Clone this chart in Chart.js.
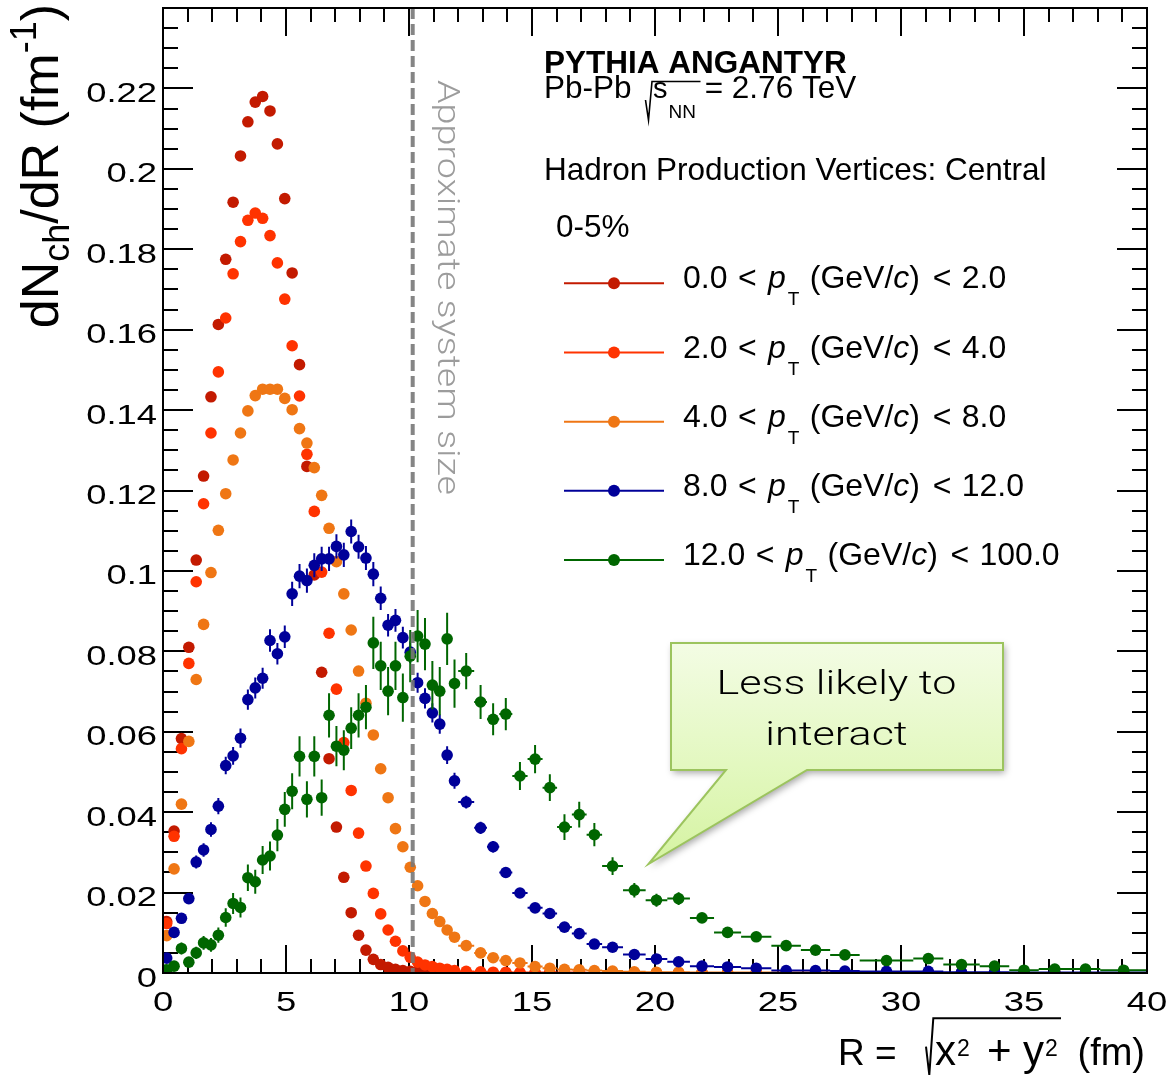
<!DOCTYPE html>
<html>
<head>
<meta charset="utf-8">
<script src="https://cdn.jsdelivr.net/npm/chart.js@4.4.1/dist/chart.umd.min.js"></script>
<style>
html,body{margin:0;padding:0;background:#ffffff;overflow:hidden;}
canvas{display:block;}
</style>
</head>
<body>
<canvas id="chart" width="1171" height="1078" style="width:1171px;height:1078px"></canvas>
<script>
// ================= DATA =================
// Bin edges in R (fm)
const binEdges = [0,0.3,0.6,0.9,1.2,1.5,1.8,2.1,2.4,2.7,3.0,3.3,3.6,3.9,4.2,4.5,4.8,5.1,5.4,5.7,
  6.0,6.3,6.6,6.9,7.2,7.5,7.8,8.1,8.4,8.7,9.0,9.3,9.6,9.9,10.2,10.5,10.8,11.1,11.4,11.7,12.0,
  12.65,13.17,13.67,14.2,14.82,15.43,16.02,16.62,17.22,17.85,18.7,19.62,20.5,21.42,22.4,23.5,
  24.73,25.93,27.12,28.32,30.5,31.72,33.2,34.4,35.6,36.9,38.1,40];

const ptLow  = ['0.0','2.0','4.0','8.0','12.0'];
const ptHigh = ['2.0','4.0','8.0','12.0','100.0'];
const seriesColors = ['#c31a00','#ff3300','#ef7614','#000099','#006600'];

// dNch/dR per bin
const yieldPt0_2 = [0.0128,0.0353,0.0583,0.0810,0.1027,0.1236,0.1433,0.1613,0.1775,0.1917,
  0.2032,0.2117,0.2166,0.2180,0.2144,0.2062,0.1926,0.1741,0.1513,0.1260,
  0.0990,0.0748,0.0533,0.0363,0.0238,0.0150,0.0094,0.0057,0.0034,0.0021,
  0.0014,0.0009,0.0006,0.0004,0.0003,0.0002,0.0002,0.0001,0.0001,0.0001,
  0.0001,0,0,0,0,0,0,0,0,0,0,0,0,0,0,0,0,0,0,0,0,0,0,0,0,0,0,0];
const yieldPt2_4 = [0.0123,0.0340,0.0558,0.0770,0.0973,0.1167,0.1343,0.1495,0.1629,0.1739,
  0.1819,0.1872,0.1890,0.1877,0.1834,0.1766,0.1676,0.1560,0.1435,0.1290,
  0.1148,0.0997,0.0845,0.0706,0.0573,0.0454,0.0348,0.0266,0.0198,0.0147,
  0.0107,0.0079,0.0055,0.0039,0.0027,0.0020,0.0016,0.0012,0.0009,0.0006,
  0.0004,0.0003,0.0002,0.0002,0.0001,0.0001,0.0001,0.0001,0.0001,0,
  0,0,0,0,0,0,0,0,0,0,0,0,0,0,0,0,0,0];
const yieldPt4_8 = [0.0093,0.0259,0.0420,0.0576,0.0730,0.0867,0.0996,0.1101,0.1192,0.1276,
  0.1343,0.1398,0.1436,0.1452,0.1452,0.1452,0.1429,0.1401,0.1354,0.1318,
  0.1257,0.1188,0.1106,0.1023,0.0943,0.0853,0.0751,0.0671,0.0592,0.0508,
  0.0436,0.0359,0.0314,0.0263,0.0217,0.0178,0.0148,0.0128,0.0107,0.0089,
  0.0068,0.0050,0.0038,0.0031,0.0025,0.0016,0.0012,0.0009,0.0008,0.0006,
  0.0005,0.0003,0.0002,0.0002,0.0001,0.0001,0.0001,0.0001,0.0001,0.0001,
  0,0,0,0,0,0,0,0];
const yieldPt8_12 = [0.0037,0.0101,0.0136,0.0185,0.0276,0.0306,0.0357,0.0415,0.0516,0.0540,
  0.0584,0.0680,0.0709,0.0733,0.0827,0.0794,0.0836,0.0943,0.0987,0.0976,
  0.1014,0.1030,0.1030,0.1061,0.1040,0.1098,0.1060,0.1032,0.0992,0.0932,
  0.0865,0.0877,0.0834,0.0798,0.0722,0.0683,0.0647,0.0619,0.0542,0.0478,
  0.0425,0.0361,0.0314,0.0250,0.0199,0.0162,0.0148,0.0114,0.0098,0.0072,
  0.0064,0.0046,0.0035,0.0028,0.0017,0.0015,0.0012,0.0006,0.0006,0.0005,
  0.0004,0.0004,0.0002,0.0002,0.0001,0.0001,0.0001,0.0001];
const yieldPt12_100 = [0.0008,0.0017,0.0061,0.0027,0.0050,0.0075,0.0070,0.0094,0.0138,0.0173,
  0.0163,0.0237,0.0227,0.0281,0.0291,0.0343,0.0407,0.0452,0.0539,0.0432,
  0.0539,0.0436,0.0641,0.0564,0.0554,0.0609,0.0641,0.0661,0.0821,0.0764,
  0.0701,0.0764,0.0685,0.0788,0.0838,0.0818,0.0716,0.0701,0.0831,0.0720,
  0.0751,0.0674,0.0631,0.0644,0.0490,0.0532,0.0461,0.0363,0.0394,0.0344,
  0.0266,0.0206,0.0181,0.0185,0.0137,0.0101,0.0090,0.0068,0.0057,0.0045,
  0.0031,0.0036,0.0021,0.0017,0.0007,0.0010,0.0010,0.0007];

// statistical errors (visible only for the two high-pT classes)
const errPt8_12 = [0.0007,0.0010,0.0012,0.0013,0.0016,0.0017,0.0018,0.0020,0.0022,0.0022,
  0.0024,0.0025,0.0026,0.0026,0.0028,0.0027,0.0028,0.0030,0.0030,0.0030,
  0.0030,0.0030,0.0030,0.0030,0.0030,0.0030,0.0030,0.0030,0.0030,0.0029,
  0.0028,0.0028,0.0027,0.0027,0.0025,0.0025,0.0024,0.0024,0.0022,0.0020,
  0.0016,0.0015,0.0014,0.0012,0.0011,0.0010,0.0009,0.0008,0.0007,0.0006,
  0.0005,0.0004,0.0004,0.0003,0.0003,0.0003,0.0002,0.0002,0.0002,0.0001,
  0.0001,0.0001,0.0001,0.0001,0.0001,0.0001,0.0001,0.0001];
const errPt12_100 = [0.0008,0.0009,0.0015,0.0012,0.0015,0.0017,0.0017,0.0019,0.0023,0.0026,
  0.0025,0.0033,0.0030,0.0035,0.0036,0.0040,0.0043,0.0045,0.0050,0.0045,
  0.0050,0.0045,0.0055,0.0050,0.0050,0.0052,0.0055,0.0055,0.0065,0.0060,
  0.0060,0.0060,0.0060,0.0065,0.0065,0.0065,0.0060,0.0060,0.0065,0.0060,
  0.0045,0.0042,0.0040,0.0040,0.0035,0.0035,0.0033,0.0032,0.0032,0.0029,
  0.0022,0.0018,0.0016,0.0016,0.0012,0.0010,0.0009,0.0008,0.0007,0.0006,
  0.0004,0.0005,0.0004,0.0003,0.0002,0.0003,0.0003,0.0002];

const xTickLabels = ['0','5','10','15','20','25','30','35','40'];
const yTickLabels = ['0','0.02','0.04','0.06','0.08','0.1','0.12','0.14','0.16','0.18','0.2','0.22'];
const systemSizeR = 10.15;

// ================= BUILD =================
const SANS = '"Liberation Sans", Arial, Helvetica, sans-serif';
const LIGHT = 'Roboto, Lato, "Open Sans", sans-serif';
const seriesValues = [yieldPt0_2, yieldPt2_4, yieldPt4_8, yieldPt8_12, yieldPt12_100];
const seriesErrors = [null, null, null, errPt8_12, errPt12_100];
const centers = [], halfWidths = [];
for (let i = 0; i < binEdges.length - 1; i++) {
  centers.push((binEdges[i] + binEdges[i+1]) / 2);
  halfWidths.push((binEdges[i+1] - binEdges[i]) / 2);
}
const datasets = seriesValues.map((vals, s) => ({
  label: ptLow[s] + ' < pT < ' + ptHigh[s],
  data: vals.map((v, i) => ({x: centers[i], y: v})),
  xErr: halfWidths,
  yErr: seriesErrors[s],
  backgroundColor: seriesColors[s],
  borderColor: seriesColors[s],
  pointRadius: 5.8, pointHoverRadius: 5.8, pointBorderWidth: 0,
  showLine: false,
  order: 4 - s,
  clip: 0
}));

// error bars, drawn per dataset just before its markers
const errorBarPlugin = {
  id: 'errorBars',
  beforeDatasetDraw(chart, args) {
    const ds = chart.data.datasets[args.index];
    const xs = chart.scales.x, ys = chart.scales.y, ctx = chart.ctx, a = chart.chartArea;
    ctx.save();
    ctx.beginPath(); ctx.rect(a.left, a.top, a.right - a.left, a.bottom - a.top); ctx.clip();
    ctx.strokeStyle = ds.borderColor; ctx.lineWidth = 2;
    ctx.beginPath();
    ds.data.forEach((p, i) => {
      const py = ys.getPixelForValue(p.y);
      ctx.moveTo(xs.getPixelForValue(p.x - ds.xErr[i]), py);
      ctx.lineTo(xs.getPixelForValue(p.x + ds.xErr[i]), py);
      if (ds.yErr) {
        const px = xs.getPixelForValue(p.x);
        ctx.moveTo(px, ys.getPixelForValue(p.y - ds.yErr[i]));
        ctx.lineTo(px, ys.getPixelForValue(p.y + ds.yErr[i]));
      }
    });
    ctx.stroke();
    ctx.restore();
  }
};

// ROOT-like frame with inward ticks on all four sides, and tick labels from the scales
const framePlugin = {
  id: 'rootFrame',
  beforeDatasetsDraw(chart) {
    const {ctx, chartArea: a} = chart, xs = chart.scales.x, ys = chart.scales.y;
    ctx.save(); ctx.strokeStyle = '#000'; ctx.lineWidth = 2; ctx.beginPath();
    for (let k = 0; k <= 40; k++) {
      const px = Math.round(xs.getPixelForValue(k));
      const L = (k % 5 === 0) ? 28 : 14;
      ctx.moveTo(px, a.bottom); ctx.lineTo(px, a.bottom - L);
      ctx.moveTo(px, a.top); ctx.lineTo(px, a.top + L);
    }
    for (let k = 0; k <= 48; k++) {
      const py = Math.round(ys.getPixelForValue(k * 0.005));
      const L = (k % 4 === 0) ? 30 : 15;
      ctx.moveTo(a.left, py); ctx.lineTo(a.left + L, py);
      ctx.moveTo(a.right, py); ctx.lineTo(a.right - L, py);
    }
    ctx.stroke();
    // tick labels (ROOT's wide label font: horizontally stretched Helvetica)
    ctx.fillStyle = '#000'; ctx.font = `28px ${SANS}`; ctx.textBaseline = 'alphabetic';
    ys.ticks.forEach(t => {
      if (!t.label) return;
      const py = ys.getPixelForValue(t.value);
      ctx.save(); ctx.translate(157, py + 13.5); ctx.scale(1.3, 1);
      ctx.textAlign = 'right'; ctx.fillText(t.label, 0, 0); ctx.restore();
    });
    xs.ticks.forEach(t => {
      if (!t.label) return;
      const px = xs.getPixelForValue(t.value);
      ctx.save(); ctx.translate(px, 1011); ctx.scale(1.3, 1);
      ctx.textAlign = 'center'; ctx.fillText(t.label, 0, 0); ctx.restore();
    });
    ctx.restore();
  },
  afterDatasetsDraw(chart) {
    const {ctx, chartArea: a} = chart, xs = chart.scales.x;
    // dashed "approximate system size" line
    const px = xs.getPixelForValue(systemSizeR);
    ctx.save();
    ctx.strokeStyle = 'rgba(120,120,120,0.9)'; ctx.lineWidth = 4; ctx.setLineDash([11, 5]);
    ctx.beginPath(); ctx.moveTo(px, a.top); ctx.lineTo(px, a.bottom); ctx.stroke();
    ctx.setLineDash([]);
    ctx.strokeStyle = '#000'; ctx.lineWidth = 2;
    ctx.strokeRect(a.left, a.top, a.right - a.left, a.bottom - a.top);
    ctx.restore();
  }
};

function txt(ctx, s, x, y, font, color, align) {
  ctx.font = font; ctx.fillStyle = color || '#000'; ctx.textAlign = align || 'left';
  ctx.textBaseline = 'alphabetic'; ctx.fillText(s, x, y);
  return ctx.measureText(s).width;
}
function radical(ctx, pts, lw) {
  ctx.save(); ctx.strokeStyle = '#000'; ctx.lineWidth = lw; ctx.lineJoin = 'miter';
  ctx.beginPath(); ctx.moveTo(pts[0][0], pts[0][1]);
  for (let i = 1; i < pts.length; i++) ctx.lineTo(pts[i][0], pts[i][1]);
  ctx.stroke(); ctx.restore();
}

const annotationPlugin = {
  id: 'annotations',
  afterDraw(chart) {
    const ctx = chart.ctx;
    ctx.save();
    // ---- header ----
    const HF = `31.5px ${SANS}`;
    txt(ctx, 'PYTHIA ANGANTYR', 544, 73, `bold 31.5px ${SANS}`);
    txt(ctx, 'Pb-Pb', 544, 98, HF);
    radical(ctx, [[645.5, 100], [648.5, 120], [652, 81.5], [700.5, 81.5]], 1.6);
    let x = 653 + txt(ctx, 's', 653, 98, `29px ${SANS}`);
    x += txt(ctx, 'NN', x + 1, 118, `19px ${SANS}`) + 1;
    txt(ctx, ' = 2.76 TeV', x, 98, HF);
    txt(ctx, 'Hadron Production Vertices: Central', 544, 180, HF);
    txt(ctx, '0-5%', 556, 237, HF);

    // ---- legend ----
    const rowY = [283.3, 352.5, 421.7, 490.8, 560];
    const LF = `32px ${SANS}`, LI = `italic 32px ${SANS}`;
    for (let s = 0; s < 5; s++) {
      const y = rowY[s], col = seriesColors[s];
      ctx.strokeStyle = col; ctx.lineWidth = 2;
      ctx.beginPath(); ctx.moveTo(564, y); ctx.lineTo(664, y); ctx.stroke();
      ctx.fillStyle = col; ctx.beginPath(); ctx.arc(614, y, 6, 0, Math.PI * 2); ctx.fill();
      const b = y + 5;
      let lx = 683;
      lx += txt(ctx, ptLow[s], lx, b, LF) + 10.5;
      lx += txt(ctx, '<', lx, b, LF) + 11.3;
      lx += txt(ctx, 'p', lx, b, LI) + 2;
      lx += txt(ctx, 'T', lx, b + 17, `19px ${SANS}`) + 10.4;
      lx += txt(ctx, '(GeV/', lx, b, LF);
      lx += txt(ctx, 'c', lx, b, LI);
      lx += txt(ctx, ')', lx, b, LF) + 12.7;
      lx += txt(ctx, '<', lx, b, LF) + 10.3;
      txt(ctx, ptHigh[s], lx, b, LF);
    }

    // ---- y-axis title (rotated) ----
    {
      const F = 52, FS = 36;
      const parts = [
        {t: 'dN', f: `${F}px ${SANS}`, dy: 0},
        {t: 'ch', f: `${FS}px ${SANS}`, dy: 11},
        {t: '/dR (fm', f: `${F}px ${SANS}`, dy: 0},
        {t: '-1', f: `${FS}px ${SANS}`, dy: -22},
        {t: ')', f: `${F}px ${SANS}`, dy: 0}
      ];
      ctx.save(); ctx.translate(58, 4); ctx.rotate(-Math.PI / 2);
      ctx.fillStyle = '#000'; ctx.textBaseline = 'alphabetic'; ctx.textAlign = 'left';
      let total = 0; parts.forEach(p => { ctx.font = p.f; total += ctx.measureText(p.t).width; });
      let px = -total;
      parts.forEach(p => { ctx.font = p.f; ctx.fillText(p.t, px, p.dy); px += ctx.measureText(p.t).width; });
      ctx.restore();
    }

    // ---- x-axis title ----
    txt(ctx, 'R =', 838, 1065, `37px ${SANS}`);
    radical(ctx, [[926, 1046.7], [929.3, 1075], [933.3, 1018.3], [1061, 1018.3]], 2);
    let tx = 935 + txt(ctx, 'x', 935, 1065, `42px ${SANS}`);
    txt(ctx, '2', tx + 1, 1056, `23px ${SANS}`);
    txt(ctx, '+', 987, 1065, `42px ${SANS}`);
    tx = 1023 + txt(ctx, 'y', 1023, 1065, `42px ${SANS}`);
    txt(ctx, '2', tx + 1, 1056, `23px ${SANS}`);
    txt(ctx, '(fm)', 1145, 1065, `38px ${SANS}`, '#000', 'right');

    // ---- rotated "Approximate system size" ----
    {
      ctx.save(); ctx.translate(438, 80); ctx.rotate(Math.PI / 2);
      ctx.font = `300 31px ${LIGHT}`;
      const w = ctx.measureText('Approximate system size').width;
      ctx.scale(415 / w, 1);
      ctx.fillStyle = '#9c9c9c'; ctx.textBaseline = 'alphabetic'; ctx.textAlign = 'left';
      ctx.fillText('Approximate system size', 0, 0);
      ctx.restore();
    }

    // ---- speech bubble ----
    {
      ctx.save();
      ctx.beginPath();
      ctx.moveTo(671, 643); ctx.lineTo(1003, 643); ctx.lineTo(1003, 770);
      ctx.lineTo(807, 770); ctx.lineTo(648.5, 864); ctx.lineTo(726, 770);
      ctx.lineTo(671, 770); ctx.closePath();
      const g = ctx.createLinearGradient(0, 643, 0, 864);
      g.addColorStop(0, '#f3fce4'); g.addColorStop(0.55, '#e3f8c0'); g.addColorStop(1, '#d5f3a2');
      ctx.shadowColor = 'rgba(0,0,0,0.35)'; ctx.shadowBlur = 7; ctx.shadowOffsetX = 2; ctx.shadowOffsetY = 3;
      ctx.fillStyle = g; ctx.fill();
      ctx.shadowColor = 'transparent';
      ctx.strokeStyle = '#9cc45e'; ctx.lineWidth = 2; ctx.stroke();
      ctx.font = `300 34px ${LIGHT}`;
      const w1 = ctx.measureText('Less likely to').width;
      const sx = 240 / w1;
      ctx.fillStyle = '#000'; ctx.textAlign = 'center'; ctx.textBaseline = 'alphabetic';
      ctx.save(); ctx.translate(836.5, 694); ctx.scale(sx, 1); ctx.fillText('Less likely to', 0, 0); ctx.restore();
      ctx.save(); ctx.translate(836.5, 745); ctx.scale(sx, 1); ctx.fillText('interact', 0, 0); ctx.restore();
      ctx.restore();
    }
    ctx.restore();
  }
};

new Chart(document.getElementById('chart').getContext('2d'), {
  type: 'scatter',
  data: {datasets},
  options: {
    responsive: false, animation: false, devicePixelRatio: 1,
    layout: {padding: {left: 0, right: 24, top: 8, bottom: 0}},
    plugins: {legend: {display: false}, tooltip: {enabled: false}},
    scales: {
      x: {
        type: 'linear', min: 0, max: 40,
        afterFit(s) { s.height = 105; s.paddingLeft = 0; s.paddingRight = 0; },
        grid: {display: false, drawTicks: false}, border: {display: false},
        ticks: {
          display: false, stepSize: 5, maxRotation: 0, autoSkip: false,
          callback: (v) => { const k = Math.round(v / 5); return Math.abs(v - 5 * k) < 1e-9 ? (xTickLabels[k] || '') : ''; }
        }
      },
      y: {
        type: 'linear', min: 0, max: 0.24,
        afterFit(s) { s.width = 163; s.paddingTop = 0; s.paddingBottom = 0; },
        grid: {display: false, drawTicks: false}, border: {display: false},
        ticks: {
          display: false, stepSize: 0.02, includeBounds: false, autoSkip: false,
          callback: (v) => { const k = Math.round(v / 0.02); return Math.abs(v - 0.02 * k) < 1e-9 ? (yTickLabels[k] || '') : ''; }
        }
      }
    }
  },
  plugins: [errorBarPlugin, framePlugin, annotationPlugin]
});
</script>
</body>
</html>
